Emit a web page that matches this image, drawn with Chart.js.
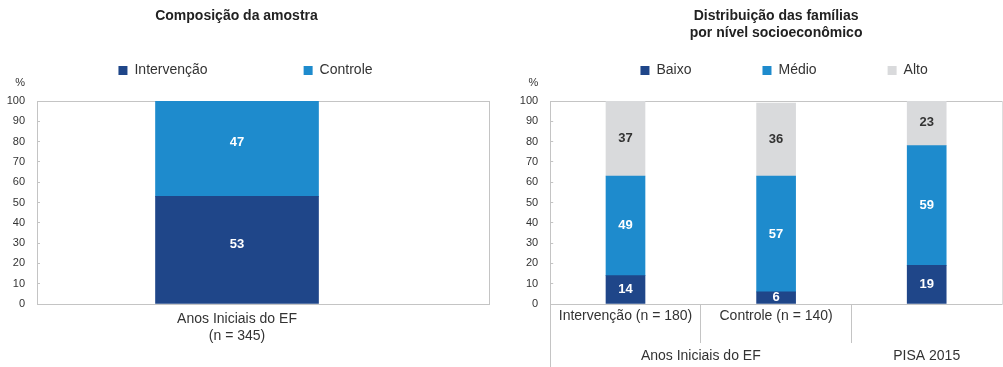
<!DOCTYPE html>
<html>
<head>
<meta charset="utf-8">
<script src="https://cdn.jsdelivr.net/npm/chart.js@4.4.1/dist/chart.umd.min.js"></script>
<style>
  html, body { margin: 0; padding: 0; background: #ffffff; overflow: hidden; width: 1003px; height: 367px; }
  #amostra { position: absolute; left: -16px; top: 0; }
  #familias { position: absolute; left: 500px; top: 0; }
</style>
</head>
<body>
<canvas id="amostra" width="506" height="367"></canvas>
<canvas id="familias" width="503" height="367"></canvas>
<script>
// ---------------- data ----------------
const yUnit = '%';
const percentTicks = [0, 10, 20, 30, 40, 50, 60, 70, 80, 90, 100];

const amostraTitle = 'Composição da amostra';
const amostraCategories = [['Anos Iniciais do EF', '(n = 345)']];
const amostraSeries = ['Intervenção', 'Controle'];
const amostraIntervencao = [53];
const amostraControle = [47];

const familiasTitle = ['Distribuição das famílias', 'por nível socioeconômico'];
const familiasCategories = ['Intervenção (n = 180)', 'Controle (n = 140)', ''];
const familiasGroups = ['Anos Iniciais do EF', 'Anos Iniciais do EF', 'PISA 2015'];
const familiasSeries = ['Baixo', 'Médio', 'Alto'];
const familiasBaixo = [14, 6, 19];
const familiasMedio = [49, 57, 59];
const familiasAlto = [37, 36, 23];

// ---------------- styles ----------------
const DARK = '#1f4689';
const MID = '#1e8bcd';
const GREY = '#d9dadc';
const BORDER = '#c4c4c4';
const TEXT = '#333333';
const TITLE = '#222222';
const FONT = '"Liberation Sans", Arial, Helvetica, sans-serif';

Chart.defaults.font.family = FONT;
Chart.defaults.color = TEXT;

// group centres derived from the category list
const groupCenters = [];
familiasGroups.forEach((g, i) => {
  let e = groupCenters.find(o => o.name === g);
  if (!e) { e = { name: g, first: i, last: i }; groupCenters.push(e); }
  e.last = i;
});
groupCenters.forEach(e => { e.center = (e.first + e.last + 1) / 2; });

// ---------------- plugins ----------------
const legendPlacer = {
  id: 'legendPlacer',
  beforeUpdate(chart, args, opts) {
    const lg = chart.legend;
    if (!lg) return;
    lg._placer = opts;
    if (lg._placerPatched) return;
    lg._placerPatched = true;
    const proto = Object.getPrototypeOf(lg);
    lg.fit = function () {
      proto.fit.call(this);
      if (this._placer && this._placer.height != null) this.height = this._placer.height;
    };
    lg.draw = function () {
      const p = this._placer || {};
      const t = this.top, l = this.left, r = this.right;
      const pad = this.options.labels.padding;
      this.top = t + (p.rowOffset || 0) - pad;
      this.left = l + (p.dx || 0);
      this.right = r + (p.dx || 0);
      proto.draw.call(this);
      this.top = t; this.left = l; this.right = r;
    };
  }
};

const valueLabels = {
  id: 'valueLabels',
  afterDatasetsDraw(chart, args, opts) {
    const ctx = chart.ctx;
    ctx.save();
    ctx.font = 'bold 13px ' + FONT;
    ctx.textAlign = 'center';
    ctx.textBaseline = 'middle';
    chart.data.datasets.forEach((ds, di) => {
      const meta = chart.getDatasetMeta(di);
      meta.data.forEach((bar, i) => {
        const raw = ds.data[i];
        const v = (raw !== null && typeof raw === 'object') ? raw.y : raw;
        if (v === null || v === undefined) return;
        const p = bar.getProps(['x', 'y', 'base'], true);
        ctx.fillStyle = (opts.colors && opts.colors[di]) || '#fff';
        ctx.fillText(String(v), p.x, (p.y + p.base) / 2 + (opts.dy || 0));
      });
    });
    ctx.restore();
  }
};

const unitLabel = {
  id: 'unitLabel',
  afterDraw(chart, args, opts) {
    const s = chart.scales.y;
    const ctx = chart.ctx;
    ctx.save();
    ctx.font = '11px ' + FONT;
    ctx.fillStyle = TEXT;
    ctx.textAlign = 'right';
    ctx.textBaseline = 'middle';
    const off = s.options.ticks.padding + s.options.grid.tickLength;
    ctx.fillText(opts.text, s.right - off, chart.chartArea.top - 18);
    ctx.restore();
  }
};

// ---------------- helpers ----------------
function percentAxis(width) {
  return {
    type: 'linear', position: 'left', stacked: true, min: 0, max: 100,
    afterBuildTicks: s => { s.ticks = percentTicks.map(v => ({ value: v })); },
    afterFit: s => { s.width = width; },
    grid: { display: true, drawOnChartArea: false, drawTicks: true, tickLength: -3, tickColor: BORDER, tickWidth: 1 },
    border: { display: true, color: BORDER, width: 1 },
    ticks: { font: { size: 11 }, color: TEXT, padding: 15, autoSkip: false }
  };
}
function edgeAxis(position, color) {
  return {
    type: 'linear', position, min: 0, max: 1, offset: false, bounds: 'data',
    grid: { display: false, drawTicks: false, drawOnChartArea: false, offset: false },
    ticks: { display: false },
    border: { display: true, color, width: 1 }
  };
}

// ---------------- left chart ----------------
new Chart(document.getElementById('amostra'), {
  type: 'bar',
  data: {
    datasets: [
      { label: amostraSeries[0], xAxisID: 'x', yAxisID: 'y', backgroundColor: DARK, borderWidth: 0,
        data: amostraCategories.map((c, i) => ({ x: i, y: amostraIntervencao[i] })) },
      { label: amostraSeries[1], xAxisID: 'x', yAxisID: 'y', backgroundColor: MID, borderWidth: 0,
        data: amostraCategories.map((c, i) => ({ x: i, y: amostraControle[i] })) }
    ]
  },
  options: {
    responsive: false, animation: false, events: [],
    layout: { padding: { top: 0, left: 0, right: 1, bottom: 0 } },
    datasets: { bar: { barThickness: 163 } },
    scales: {
      x: {
        type: 'linear', position: 'bottom', stacked: true, min: -0.4425, max: 0.5575,
        offset: false, bounds: 'data',
        afterBuildTicks: s => { s.ticks = amostraCategories.map((c, i) => ({ value: i })); },
        afterFit: s => { s.height = 63; },
        grid: { display: false, drawTicks: false, drawOnChartArea: false, offset: false },
        border: { display: true, color: BORDER, width: 1 },
        ticks: { font: { size: 14 }, color: TEXT, padding: 7, autoSkip: false, maxRotation: 0,
                 callback: v => (amostraCategories[v] !== undefined ? amostraCategories[v] : '') }
      },
      y: percentAxis(53),
      xTop: edgeAxis('top', BORDER),
      yRight: edgeAxis('right', BORDER)
    },
    plugins: {
      title: { display: true, text: amostraTitle, color: TITLE, font: { size: 14, weight: 'bold' },
               padding: { top: 8, bottom: 0 }, fullSize: true },
      legend: { display: true, position: 'top', fullSize: true,
                labels: { font: { size: 14 }, color: TEXT, boxWidth: 9, boxHeight: 9, padding: 96 } },
      tooltip: { enabled: false },
      legendPlacer: { height: 76.2, rowOffset: 38.7, dx: 9 },
      valueLabels: { colors: ['#ffffff', '#ffffff'], dy: -6 },
      unitLabel: { text: yUnit }
    }
  },
  plugins: [legendPlacer, valueLabels, unitLabel]
});

// ---------------- right chart ----------------
new Chart(document.getElementById('familias'), {
  type: 'bar',
  data: {
    labels: familiasCategories,
    datasets: [
      { label: familiasSeries[0], xAxisID: 'x', yAxisID: 'y', backgroundColor: DARK, borderWidth: 0, data: familiasBaixo },
      { label: familiasSeries[1], xAxisID: 'x', yAxisID: 'y', backgroundColor: MID, borderWidth: 0, data: familiasMedio },
      { label: familiasSeries[2], xAxisID: 'x', yAxisID: 'y', backgroundColor: GREY, borderWidth: 0, data: familiasAlto }
    ]
  },
  options: {
    responsive: false, animation: false, events: [],
    layout: { padding: { top: 0, left: 0, right: 1, bottom: 0 } },
    datasets: { bar: { barThickness: 39 } },
    scales: {
      x: {
        type: 'category', position: 'bottom', weight: 0, stacked: true, offset: true,
        afterFit: s => { s.height = 20.4; },
        grid: { display: true, offset: true, drawOnChartArea: false, drawTicks: true, tickLength: 39, tickWidth: 1,
                tickColor: c => (c.index === 0 || c.index === 1 || c.index === 2) ? BORDER : 'rgba(0,0,0,0)' },
        border: { display: true, color: BORDER, width: 1 },
        ticks: { font: { size: 14 }, color: TEXT, padding: -35.4, autoSkip: false, maxRotation: 0 }
      },
      y: percentAxis(50.2),
      xGroup: {
        type: 'linear', position: 'bottom', weight: 1, min: 0, max: familiasCategories.length,
        offset: false, bounds: 'data',
        afterBuildTicks: s => { s.ticks = [{ value: 0 }].concat(groupCenters.map(g => ({ value: g.center }))); },
        afterFit: s => { s.height = 42.6; },
        grid: { display: true, offset: false, drawOnChartArea: false, drawTicks: true, tickLength: 42.6, tickWidth: 1,
                tickColor: c => (c.tick && c.tick.value === 0) ? BORDER : 'rgba(0,0,0,0)' },
        border: { display: false },
        ticks: { font: { size: 14 }, color: TEXT, padding: -19.4, autoSkip: false, maxRotation: 0,
                 callback: v => { const g = groupCenters.find(o => o.center === v); return g ? g.name : ''; } }
      },
      xTop: edgeAxis('top', BORDER),
      yRight: edgeAxis('right', '#dedede')
    },
    plugins: {
      title: { display: true, text: familiasTitle, color: TITLE, font: { size: 14, weight: 'bold' },
               padding: { top: 8, bottom: 0 }, fullSize: false },
      legend: { display: true, position: 'top', fullSize: false,
                labels: { font: { size: 14 }, color: TEXT, boxWidth: 9, boxHeight: 9, padding: 71 } },
      tooltip: { enabled: false },
      legendPlacer: { height: 59.4, rowOffset: 21.9, dx: 8 },
      valueLabels: { colors: ['#ffffff', '#ffffff', '#333333'], dy: 0 },
      unitLabel: { text: yUnit }
    }
  },
  plugins: [legendPlacer, valueLabels, unitLabel]
});
</script>
</body>
</html>
